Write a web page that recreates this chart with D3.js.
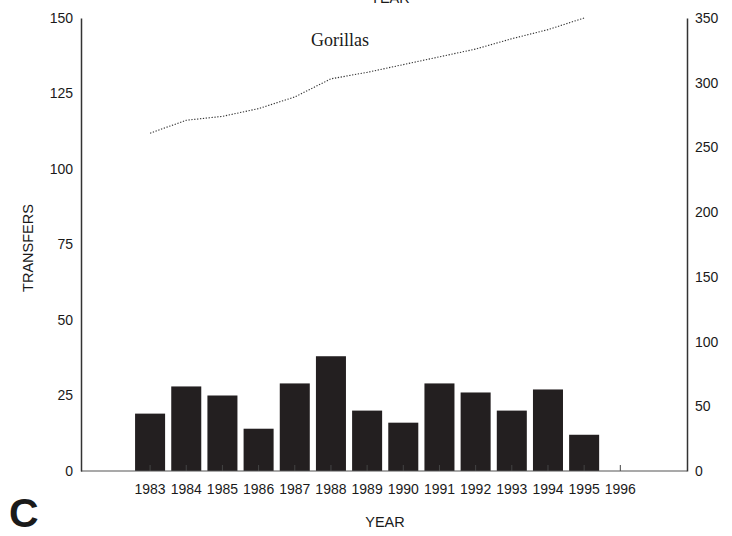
<!DOCTYPE html>
<html>
<head>
<meta charset="utf-8">
<script src="https://cdn.jsdelivr.net/npm/d3@7/dist/d3.min.js"></script>
<style>
  html, body { margin: 0; padding: 0; background: #fff; }
  svg { display: block; }
  text { font-family: "Liberation Sans", Arial, sans-serif; fill: #1a1a1a; }
</style>
</head>
<body>
<svg id="chart" width="732" height="536"></svg>
<script>
// Transfers per year (left axis) and gorilla population (right axis)
const years = [1983, 1984, 1985, 1986, 1987, 1988, 1989, 1990, 1991, 1992, 1993, 1994, 1995, 1996];
const transfers = [19, 28, 25, 14, 29, 38, 20, 16, 29, 26, 20, 27, 12, null];
const gorillaYears = [1983, 1984, 1985, 1986, 1987, 1988, 1989, 1990, 1991, 1992, 1993, 1994, 1995];
const gorillas = [261, 271, 274, 280, 289, 303, 308, 314, 320, 326, 334, 341, 350];
const leftTicks = [0, 25, 50, 75, 100, 125, 150];
const rightTicks = [0, 50, 100, 150, 200, 250, 300, 350];

const svg = d3.select("#chart");
const plotLeft = 81, plotRight = 687, plotTop = 18, plotBottom = 471;
const tickFont = 14;

const x = d3.scaleBand()
  .domain(years)
  .range([132, 638.4])
  .paddingInner(0.17)
  .paddingOuter(0.085);

const yLeft = d3.scaleLinear().domain([0, 150]).range([plotBottom, plotTop]);
const yRight = d3.scaleLinear().domain([0, 350]).range([plotBottom, plotTop]);

// bars
svg.append("g")
  .selectAll("rect")
  .data(years.map((yr, i) => ({ yr, v: transfers[i] })).filter(d => d.v != null))
  .join("rect")
  .attr("x", d => x(d.yr))
  .attr("y", d => yLeft(d.v))
  .attr("width", x.bandwidth())
  .attr("height", d => yLeft(0) - yLeft(d.v))
  .attr("fill", "#231f20");

// small category ticks along the baseline
const xAxis = d3.axisBottom(x).tickSize(-6).tickSizeOuter(0).tickPadding(13);
const gx = svg.append("g").attr("transform", `translate(0,${plotBottom})`).call(xAxis);
gx.select(".domain").remove();
gx.selectAll("line").attr("stroke", "#444").attr("stroke-width", 1);
gx.selectAll("text").attr("font-size", tickFont).attr("fill", "#1a1a1a")
  .attr("font-family", "Liberation Sans, Arial, sans-serif");

// baseline
svg.append("line")
  .attr("x1", plotLeft).attr("x2", plotRight)
  .attr("y1", plotBottom).attr("y2", plotBottom)
  .attr("stroke", "#555").attr("stroke-width", 1.2);

// left axis
const gl = svg.append("g").attr("transform", `translate(${plotLeft},0)`)
  .call(d3.axisLeft(yLeft).tickValues(leftTicks).tickSize(0).tickPadding(8));
gl.select(".domain").attr("stroke", "#333").attr("stroke-width", 1.5);
gl.selectAll("text").attr("font-size", tickFont).attr("fill", "#1a1a1a")
  .attr("font-family", "Liberation Sans, Arial, sans-serif");

// right axis
const gr = svg.append("g").attr("transform", `translate(${plotRight},0)`)
  .call(d3.axisRight(yRight).tickValues(rightTicks).tickSize(0).tickPadding(8));
gr.select(".domain").attr("stroke", "#333").attr("stroke-width", 1.5);
gr.selectAll("text").attr("font-size", tickFont).attr("fill", "#1a1a1a")
  .attr("font-family", "Liberation Sans, Arial, sans-serif");

// gorilla population line (dotted)
const line = d3.line()
  .x((d, i) => x(gorillaYears[i]) + x.bandwidth() / 2)
  .y(d => yRight(d));
svg.append("path")
  .datum(gorillas)
  .attr("d", line)
  .attr("fill", "none")
  .attr("stroke", "#333")
  .attr("stroke-width", 1.1)
  .attr("stroke-dasharray", "1.3,1.6");

// labels
svg.append("text")
  .attr("x", 340).attr("y", 46)
  .attr("text-anchor", "middle")
  .style("font-family", "'Liberation Serif', 'Times New Roman', serif")
  .attr("font-size", 18)
  .text("Gorillas");

svg.append("text")
  .attr("x", 390).attr("y", 3)
  .attr("text-anchor", "middle")
  .attr("font-size", 14.5)
  .text("YEAR");

svg.append("text")
  .attr("x", 385).attr("y", 527)
  .attr("text-anchor", "middle")
  .attr("font-size", 14.5)
  .text("YEAR");

svg.append("text")
  .attr("transform", "translate(33,248) rotate(-90)")
  .attr("text-anchor", "middle")
  .attr("font-size", 14.5)
  .text("TRANSFERS");

svg.append("text")
  .attr("x", 9).attr("y", 527)
  .attr("font-size", 41)
  .attr("font-weight", "bold")
  .text("C");
</script>
</body>
</html>
